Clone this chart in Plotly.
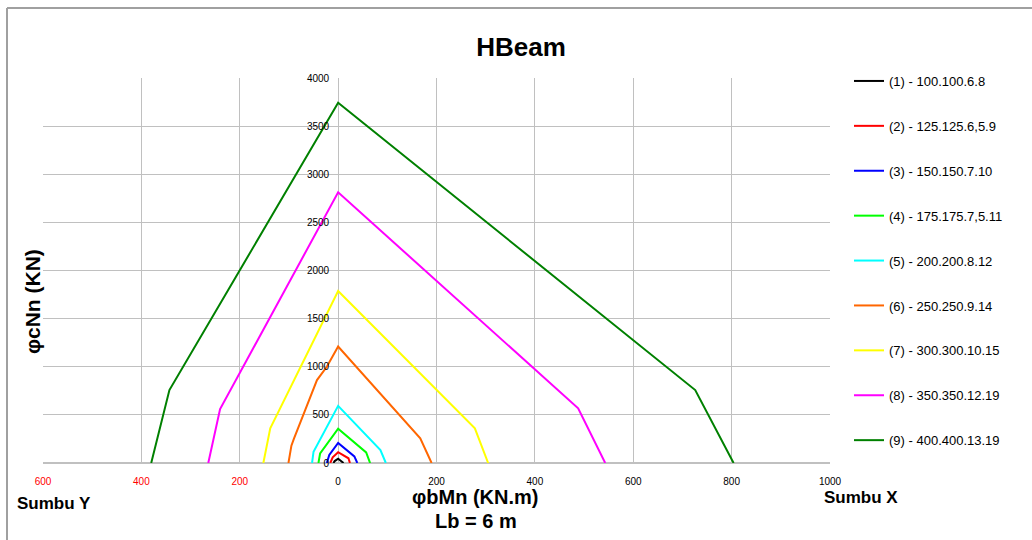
import plotly.graph_objects as go

# ---- data ----
series_names = [
    "(1) - 100.100.6.8",
    "(2) - 125.125.6,5.9",
    "(3) - 150.150.7.10",
    "(4) - 175.175.7,5.11",
    "(5) - 200.200.8.12",
    "(6) - 250.250.9.14",
    "(7) - 300.300.10.15",
    "(8) - 350.350.12.19",
    "(9) - 400.400.13.19",
]
series_colors = ["#000000", "#ff0000", "#0000ff", "#00ff00", "#00ffff",
                 "#ff6600", "#ffff00", "#ff00ff", "#008000"]

# moment (negative = Sumbu Y side, positive = Sumbu X side), axial force
m1 = [-9.5, -7, 0, 7.5, 11]
n1 = [0, 20, 45, 20, 0]
m2 = [-16, -11, 0, 21, 24]
n2 = [0, 59, 112, 49, 0]
m3 = [-23, -18, 0, 33, 39]
n3 = [0, 83, 208, 68, 0]
m4 = [-40, -36.6, 0, 57, 65]
n4 = [0, 100, 356, 110, 0]
m5 = [-53, -50, 0, 86, 97]
n5 = [0, 117, 594, 135, 0]
m6 = [-101, -95, -90, -74, -67, -43, -23, 0, 167, 190]
n6 = [0, 180, 250, 450, 550, 862, 1000, 1210, 257, 0]
m7 = [-152, -138, 0, 278, 305]
n7 = [0, 360, 1787, 360, 0]
m8 = [-264, -240, 0, 488, 543]
n8 = [0, 560, 2812, 568, 0]
m9 = [-380, -343, 0, 726, 804]
n9 = [0, 758, 3742, 758, 0]

moments = [m1, m2, m3, m4, m5, m6, m7, m8, m9]
forces = [n1, n2, n3, n4, n5, n6, n7, n8, n9]

x_tickvals = [-600, -400, -200, 0, 200, 400, 600, 800, 1000]
x_ticklabels = ["600", "400", "200", "0", "200", "400", "600", "800", "1000"]
y_tickvals = [0, 500, 1000, 1500, 2000, 2500, 3000, 3500, 4000]

fig = go.Figure()
for i, (name, col, mx, ny) in enumerate(zip(series_names, series_colors, moments, forces)):
    fig.add_trace(go.Scatter(x=mx, y=ny, mode="lines", name=name,
                             line=dict(color=col, width=2),
                             legendgroup=f"g{i}"))

ticktext = [f"<span style='color:#ff0000'>{t}</span>" if v < 0 else t
            for v, t in zip(x_tickvals, x_ticklabels)]

W, H = 1032, 540
L, R, T, B = 43, 202, 78, 77
pw, ph = W - L - R, H - T - B

def px(x):
    return (x - L) / pw

def py(y):
    return (H - B - y) / ph

fig.update_layout(
    width=W, height=H,
    margin=dict(l=L, r=R, t=T, b=B),
    paper_bgcolor="white", plot_bgcolor="white",
    font=dict(family="Liberation Sans, Arial, sans-serif", color="black", size=11),
    title=dict(text="<b>HBeam</b>", x=521 / W, xref="container", y=1 - 47 / H,
               yref="container", xanchor="center", yanchor="middle",
               font=dict(size=26, color="black")),
    xaxis=dict(range=[-600, 1000], tickvals=x_tickvals, ticktext=ticktext,
               showgrid=True, gridcolor="#c0c0c0", gridwidth=1,
               zeroline=False, showline=False, ticks="outside", ticklen=9,
               tickcolor="rgba(0,0,0,0)",
               tickfont=dict(size=10), domain=[0, 1]),
    yaxis=dict(range=[0, 4000], tickvals=y_tickvals, anchor="free",
               position=0.375, showgrid=True, gridcolor="#c0c0c0",
               gridwidth=1, zeroline=True, zerolinecolor="#c0c0c0",
               showline=False, ticks="outside", ticklen=7,
               tickcolor="rgba(0,0,0,0)", tickfont=dict(size=10)),
    legend=dict(x=px(849), y=py(66), xanchor="left", yanchor="top",
                bgcolor="rgba(0,0,0,0)", font=dict(size=13),
                tracegroupgap=25, itemwidth=30, maxheight=520),
    showlegend=True,
)

annots = [
    dict(text="<b>φcNn (KN)</b>", x=px(32), y=py(302), textangle=-90,
         font=dict(size=21)),
    dict(text="<b>φbMn (KN.m)</b>", x=px(475), y=py(497), font=dict(size=20)),
    dict(text="<b>Lb = 6 m</b>", x=px(476), y=py(521), font=dict(size=20)),
    dict(text="<b>Sumbu Y</b>", x=px(54), y=py(503), font=dict(size=17)),
    dict(text="<b>Sumbu X</b>", x=px(861), y=py(497), font=dict(size=17)),
]
for a in annots:
    fig.add_annotation(xref="paper", yref="paper", showarrow=False,
                       xanchor="center", yanchor="middle", **a)

# outer chart border (top and left)
fig.add_shape(type="line", xref="paper", yref="paper",
              x0=px(7), x1=px(1032), y0=py(8), y1=py(8),
              line=dict(color="#a0a0a0", width=2))
fig.add_shape(type="line", xref="paper", yref="paper",
              x0=px(7), x1=px(7), y0=py(8), y1=py(540),
              line=dict(color="#a0a0a0", width=2))

fig.write_html("out.html", config={"displayModeBar": False},
               post_script="document.body.style.margin='0';document.body.style.overflow='hidden';")
